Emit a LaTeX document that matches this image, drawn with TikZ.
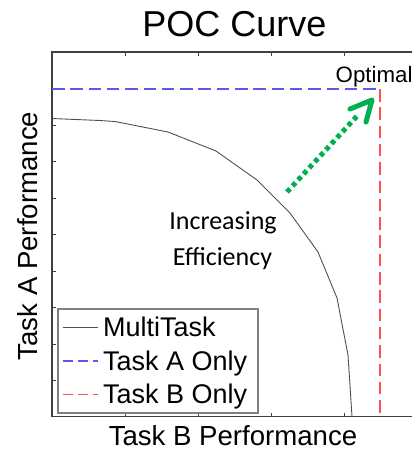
\documentclass[tikz,border=0pt]{standalone}
\usepackage{fontspec}
\setmainfont{Liberation Sans}
\newfontfamily\calibrifont{Carlito}
\definecolor{axisgray}{RGB}{64,64,64}
\definecolor{curvegray}{RGB}{80,80,80}
\definecolor{taskblue}{RGB}{90,90,235}
\definecolor{taskred}{RGB}{255,80,80}
\definecolor{effgreen}{RGB}{0,176,80}
\begin{document}
\begin{tikzpicture}[x=1pt, y=-1pt,
  axisline/.style={draw=axisgray, line width=1.2pt},
  tickline/.style={draw=axisgray, line width=1pt},
  multitask/.style={draw=curvegray, line width=0.9pt, line join=round},
  onlyA/.style={draw=taskblue, line width=1.1pt, dash pattern=on 12.5pt off 5.8pt},
  onlyB/.style={draw=taskred, line width=1.1pt, dash pattern=on 12.5pt off 5.8pt},
  legA/.style={draw=taskblue, line width=1.1pt, dash pattern=on 10pt off 5pt},
  legB/.style={draw=taskred, line width=1.1pt, dash pattern=on 10pt off 5pt},
  legframe/.style={draw=gray, line width=1.2pt, fill=white},
  legtext/.style={anchor=base west, inner sep=0pt, font=\fontsize{27}{30}\selectfont},
  shaft/.style={draw=effgreen, line width=5pt, dash pattern=on 4.5pt off 3.7pt},
  head/.style={draw=effgreen, line width=5pt, line cap=round, line join=round},
  efftext/.style={anchor=base, inner sep=0pt, font=\calibrifont\fontsize{26}{30}\selectfont}]
\useasboundingbox (0,0) rectangle (412,451);
\clip (0,0) rectangle (412,451);

% title and axis labels
\node[anchor=base, inner sep=0pt, font=\fontsize{36}{39}\selectfont] (title) at (234.5,36.7) {POC Curve};
\node[anchor=base, inner sep=0pt, font=\fontsize{27.6}{30}\selectfont] (xlabel) at (233,445.5) {Task B Performance};
\node[anchor=base, inner sep=0pt, rotate=90, font=\fontsize{27.6}{30}\selectfont] (ylabel) at (37.5,236) {Task A Performance};

% axes frame (right side runs past the edge)
\coordinate (tl) at (52,52);
\coordinate (bl) at (52,416.5);
\coordinate (tr) at (440,52);
\coordinate (br) at (440,416.5);
\draw[axisline] (tr) -- (tl) -- (bl) -- (br);

% ticks
\foreach \x in {125,198.2,271.4,344.6}{
  \draw[tickline] (\x,52) -- (\x,55.5);
  \draw[tickline] (\x,416.5) -- (\x,413);
}
\foreach \y in {88.5,125,161.5,198,234.5,271,307.5,344,380.5}{
  \draw[tickline] (52,\y) -- (55.5,\y);
}

% single-task bounds
\coordinate (aStart) at (52,89);
\coordinate (opt) at (380,89);
\coordinate (bEnd) at (380,416.5);
\draw[onlyA] (aStart) -- (opt);
\draw[onlyB] (opt) -- (bEnd);
\node[anchor=base west, inner sep=0pt, font=\fontsize{22.3}{25}\selectfont] (optimal) at (335.5,82) {Optimal};

% multitask trade-off curve
\draw[multitask] (52,118.5) -- (100,120.5) -- (115,121.5) -- (168,132) -- (216,151)
  -- (257,180) -- (290,213) -- (318,252) -- (337,298) -- (348,355) -- (352,416.5);

% efficiency arrow
\coordinate (arrFrom) at (287,192);
\coordinate (arrTo) at (358,115);
\coordinate (tip) at (372,100);
\coordinate (armL) at (350,109);
\coordinate (armR) at (366,122);
\draw[shaft] (arrFrom) -- (arrTo);
\draw[head] (armL) -- (tip) -- (armR);

\node[efftext] (incr) at (223,229) {Increasing};
\node[efftext] (effic) at (222.5,265) {Efficiency};

% legend
\coordinate (legNW) at (58,309);
\coordinate (legSE) at (258,413);
\draw[legframe] (legNW) rectangle (legSE);
\coordinate (l1a) at (63,327.5);
\coordinate (l1b) at (98,327.5);
\coordinate (l2a) at (63,361);
\coordinate (l2b) at (98,361);
\coordinate (l3a) at (63,394.5);
\coordinate (l3b) at (98,394.5);
\draw[draw=curvegray, line width=1pt] (l1a) -- (l1b);
\draw[legA] (l2a) -- (l2b);
\draw[legB] (l3a) -- (l3b);
\node[legtext] (legMulti) at (103,336) {MultiTask};
\node[legtext] (legA) at (103,370) {Task A Only};
\node[legtext] (legB) at (103,403) {Task B Only};
\end{tikzpicture}
\end{document}
